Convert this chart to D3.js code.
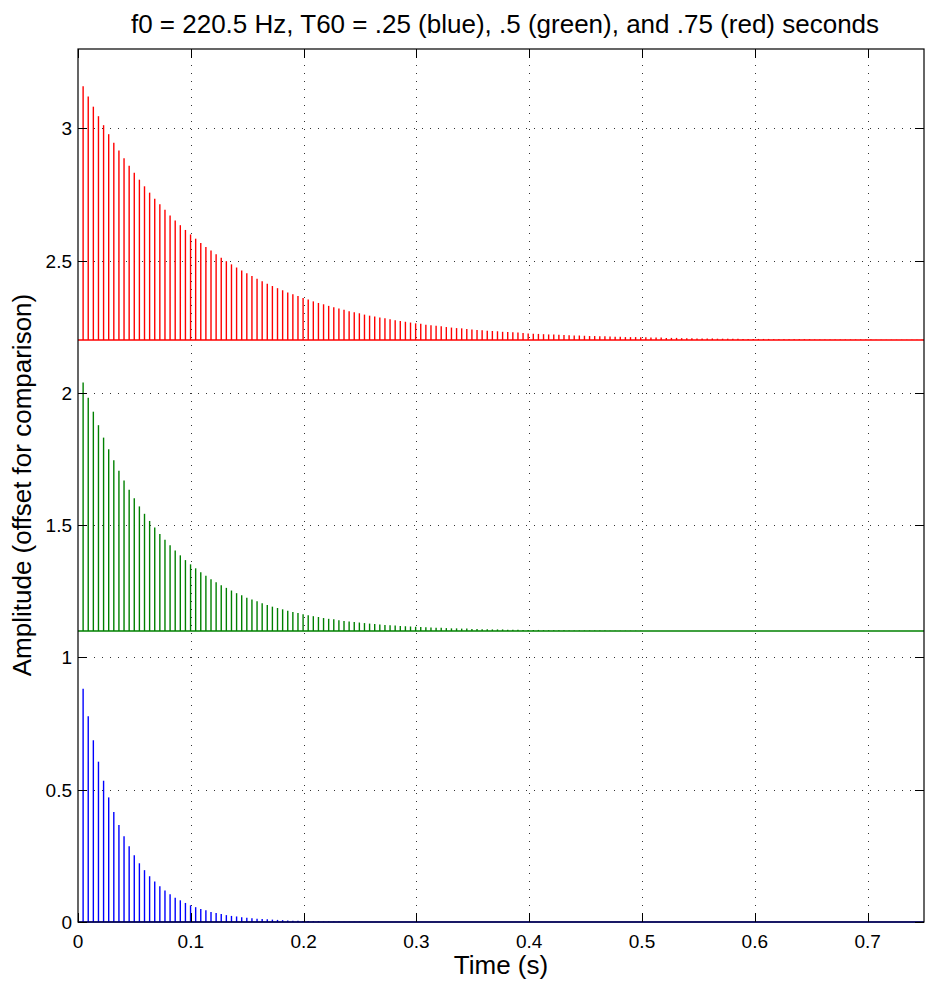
<!DOCTYPE html>
<html><head><meta charset="utf-8">
<script src="https://cdn.jsdelivr.net/npm/d3@7"></script>
<style>
body{margin:0;background:#fff;}
text{font-family:"Liberation Sans",Arial,Helvetica,sans-serif;fill:#000;}
</style></head>
<body>
<svg id="chart" width="932" height="983"></svg>
<script>
// Stem heights (amplitude); stem n sits at n periods of f0
const f0 = 220.5;
const offsets = {blue: 0, green: 1.1, red: 2.2};
const blueValues = [0.882,0.778,0.687,0.606,0.534,0.471,0.416,0.367,0.324,0.286,0.252,0.222,0.196,0.173,0.153,0.135,0.119,0.105,0.092,0.082,0.072,0.063,0.056,0.049,0.044,0.038,0.034,0.030,0.026,0.023,0.021,0.018,0.016,0.014,0.012,0.011,0.010,0.009,0.008,0.007,0.006,0.005,0.005,0.004,0.004,0.003,0.003,0.002,0.002,0.002,0.002,0.001,0.001,0.001,0.001];
const greenValues = [0.939,0.882,0.829,0.778,0.731,0.687,0.645,0.606,0.569,0.534,0.502,0.471,0.443,0.416,0.391,0.367,0.345,0.324,0.304,0.286,0.268,0.252,0.237,0.222,0.209,0.196,0.184,0.173,0.163,0.153,0.143,0.135,0.126,0.119,0.112,0.105,0.098,0.092,0.087,0.082,0.077,0.072,0.068,0.063,0.060,0.056,0.053,0.049,0.046,0.044,0.041,0.038,0.036,0.034,0.032,0.030,0.028,0.026,0.025,0.023,0.022,0.021,0.019,0.018,0.017,0.016,0.015,0.014,0.013,0.012,0.012,0.011,0.010,0.010,0.009,0.009,0.008,0.008,0.007,0.007,0.006,0.006,0.006,0.005,0.005,0.005,0.004,0.004,0.004,0.004,0.003,0.003,0.003,0.003,0.003,0.002,0.002,0.002,0.002,0.002,0.002,0.002,0.002,0.001,0.001,0.001,0.001,0.001,0.001,0.001];
const redValues = [0.959,0.920,0.882,0.846,0.812,0.778,0.746,0.716,0.687,0.659,0.632,0.606,0.581,0.557,0.534,0.513,0.492,0.471,0.452,0.434,0.416,0.399,0.383,0.367,0.352,0.338,0.324,0.311,0.298,0.286,0.274,0.263,0.252,0.242,0.232,0.222,0.213,0.204,0.196,0.188,0.180,0.173,0.166,0.159,0.153,0.146,0.140,0.135,0.129,0.124,0.119,0.114,0.109,0.105,0.101,0.096,0.092,0.089,0.085,0.082,0.078,0.075,0.072,0.069,0.066,0.063,0.061,0.058,0.056,0.054,0.052,0.049,0.047,0.045,0.044,0.042,0.040,0.038,0.037,0.035,0.034,0.033,0.031,0.030,0.029,0.028,0.026,0.025,0.024,0.023,0.022,0.021,0.021,0.020,0.019,0.018,0.017,0.017,0.016,0.015,0.015,0.014,0.014,0.013,0.012,0.012,0.011,0.011,0.011,0.010,0.010,0.009,0.009,0.009,0.008,0.008,0.008,0.007,0.007,0.007,0.006,0.006,0.006,0.006,0.005,0.005,0.005,0.005,0.005,0.004,0.004,0.004,0.004,0.004,0.004,0.003,0.003,0.003,0.003,0.003,0.003,0.003,0.003,0.002,0.002,0.002,0.002,0.002,0.002,0.002,0.002,0.002,0.002,0.002,0.002,0.001,0.001,0.001,0.001,0.001,0.001,0.001,0.001,0.001,0.001];
const xTicks = [0,0.1,0.2,0.3,0.4,0.5,0.6,0.7];
const yTicks = [0,0.5,1,1.5,2,2.5,3];
const xDomain = [0,0.75];
const yDomain = [0,3.3];
const titleText = "f0 = 220.5 Hz, T60 = .25 (blue), .5 (green), and .75 (red) seconds";
const xLabel = "Time (s)";
const yLabel = "Amplitude (offset for comparison)";

const series = [
  {name:"blue", values: blueValues, offset: offsets.blue, color:"#0000ff"},
  {name:"green", values: greenValues, offset: offsets.green, color:"#008000"},
  {name:"red", values: redValues, offset: offsets.red, color:"#ff0000"}
];

const L = 78, R = 924, T = 49, B = 922;
const svg = d3.select("#chart");
const x = d3.scaleLinear().domain(xDomain).range([L, R]);
const y = d3.scaleLinear().domain(yDomain).range([B, T]);

// grid
const grid = svg.append("g").attr("stroke","#333").attr("stroke-width",1).attr("stroke-dasharray","1,7");
grid.selectAll(".gx").data(xTicks.filter(d=>d>0)).join("line")
  .attr("x1",d=>Math.round(x(d))+0.5).attr("x2",d=>Math.round(x(d))+0.5).attr("y1",B).attr("y2",T);
grid.selectAll(".gy").data(yTicks.filter(d=>d>0)).join("line")
  .attr("y1",d=>Math.round(y(d))+0.5).attr("y2",d=>Math.round(y(d))+0.5).attr("x1",L).attr("x2",R);

// stems
series.forEach(s => {
  const g = svg.append("g").attr("stroke", s.color).attr("stroke-width", 1.4);
  g.selectAll("line.stem").data(s.values).join("line")
    .attr("class","stem")
    .attr("x1",(d,i)=>x((i+1)/f0)).attr("x2",(d,i)=>x((i+1)/f0))
    .attr("y1",y(s.offset)).attr("y2",d=>y(s.offset+d));
  g.append("line").attr("x1",x(xDomain[0])).attr("x2",x(xDomain[1]))
    .attr("y1",y(s.offset)).attr("y2",y(s.offset)).attr("stroke-width",1.5);
});

// axes box
svg.append("rect").attr("x",L).attr("y",T).attr("width",R-L).attr("height",B-T)
  .attr("fill","none").attr("stroke","#000").attr("stroke-width",1.2);

const tickLen = 9;
const axes = svg.append("g").attr("stroke","#000").attr("stroke-width",1);
xTicks.forEach(t => {
  const px = Math.round(x(t))+0.5;
  axes.append("line").attr("x1",px).attr("x2",px).attr("y1",B).attr("y2",B-tickLen);
  axes.append("line").attr("x1",px).attr("x2",px).attr("y1",T).attr("y2",T+tickLen);
});
yTicks.forEach(t => {
  const py = Math.round(y(t))+0.5;
  axes.append("line").attr("x1",L).attr("x2",L+tickLen).attr("y1",py).attr("y2",py);
  axes.append("line").attr("x1",R).attr("x2",R-tickLen).attr("y1",py).attr("y2",py);
});

// tick labels
svg.append("g").selectAll("text").data(xTicks).join("text")
  .attr("x",d=>x(d)).attr("y",B+26).attr("text-anchor","middle")
  .attr("font-size",19).text(d=>d3.format("")(d));
svg.append("g").selectAll("text").data(yTicks).join("text")
  .attr("x",L-6).attr("y",d=>y(d)+7).attr("text-anchor","end")
  .attr("font-size",19).text(d=>d3.format("")(d));

// labels
svg.append("text").attr("x",505).attr("y",33).attr("text-anchor","middle")
  .attr("font-size",26).text(titleText);
svg.append("text").attr("x",(L+R)/2).attr("y",974).attr("text-anchor","middle")
  .attr("font-size",26).text(xLabel);
svg.append("text").attr("transform",`translate(31,${485}) rotate(-90)`)
  .attr("text-anchor","middle").attr("font-size",26).text(yLabel);
</script>
</body></html>
